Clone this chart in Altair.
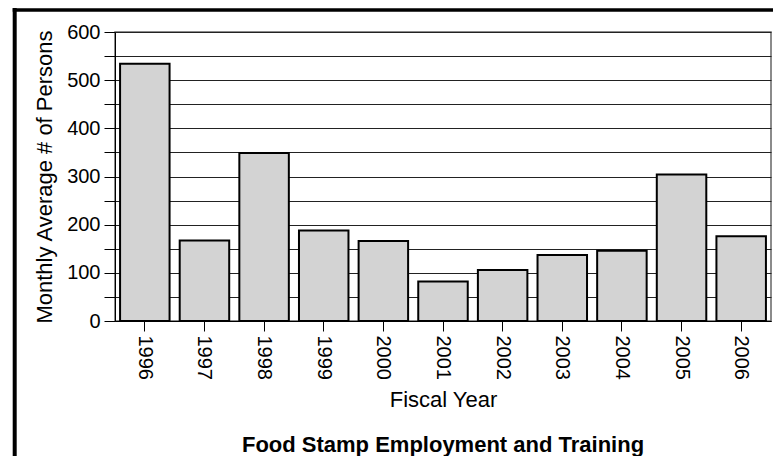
import altair as alt
import pandas as pd

years = ["1996", "1997", "1998", "1999", "2000", "2001", "2002", "2003", "2004", "2005", "2006"]
persons = [534, 167, 349, 188, 166, 82, 106, 137, 146, 304, 176]
y_ticks = [0, 50, 100, 150, 200, 250, 300, 350, 400, 450, 500, 550, 600]
chart_title = "Food Stamp Employment and Training"

df = pd.DataFrame({"year": years, "persons": persons})
FONT = "Liberation Sans"

bars = alt.Chart(df).mark_bar(
    fill="#d3d3d3", stroke="black", strokeWidth=2
).encode(
    x=alt.X("year:N", title="Fiscal Year",
            scale=alt.Scale(paddingInner=0.17, paddingOuter=0.085),
            axis=alt.Axis(labelAngle=90, labelAlign="left", labelBaseline="middle",
                          tickSize=10, labelPadding=4, titlePadding=10,
                          domainColor="black", tickColor="black", labelColor="black",
                          labelFontSize=20, titleFontSize=22, titleFontWeight="normal",
                          titleColor="black", labelFont=FONT, titleFont=FONT)),
    y=alt.Y("persons:Q", title="Monthly Average # of Persons",
            scale=alt.Scale(domain=[0, 600], nice=False),
            axis=alt.Axis(values=y_ticks, labelExpr="datum.value % 100 == 0 ? datum.label : ''",
                          tickSize=11, labelPadding=4, titlePadding=10,
                          grid=True, gridColor="#222", gridWidth=1, gridOpacity=1,
                          domainColor="black", tickColor="black", labelColor="black",
                          labelFontSize=20, titleFontSize=22, titleFontWeight="normal",
                          titleColor="black", labelFont=FONT, titleFont=FONT)),
)

one = pd.DataFrame({"title": [chart_title]})
vborder = alt.Chart(one).mark_rule(color="black", strokeWidth=4).encode(
    x=alt.value(-100.3), y=alt.value(-24), y2=alt.value(430))
hborder = alt.Chart(one).mark_rule(color="black", strokeWidth=3.5).encode(
    x=alt.value(-102.3), x2=alt.value(660), y=alt.value(-22))
title_text = alt.Chart(one).mark_text(
    font=FONT, fontSize=22, fontWeight="bold", color="black",
    align="center", baseline="alphabetic"
).encode(text="title:N", x=alt.value(328), y=alt.value(420))

chart = alt.layer(bars, vborder, hborder, title_text).properties(
    width=656, height=289,
    autosize=alt.AutoSizeParams(type="none"),
    padding={"left": 107, "top": 24, "right": 2, "bottom": 135},
).configure_view(stroke="#666", strokeWidth=1.5)

chart.save("out.html", embed_options={"renderer": "svg", "actions": False})
